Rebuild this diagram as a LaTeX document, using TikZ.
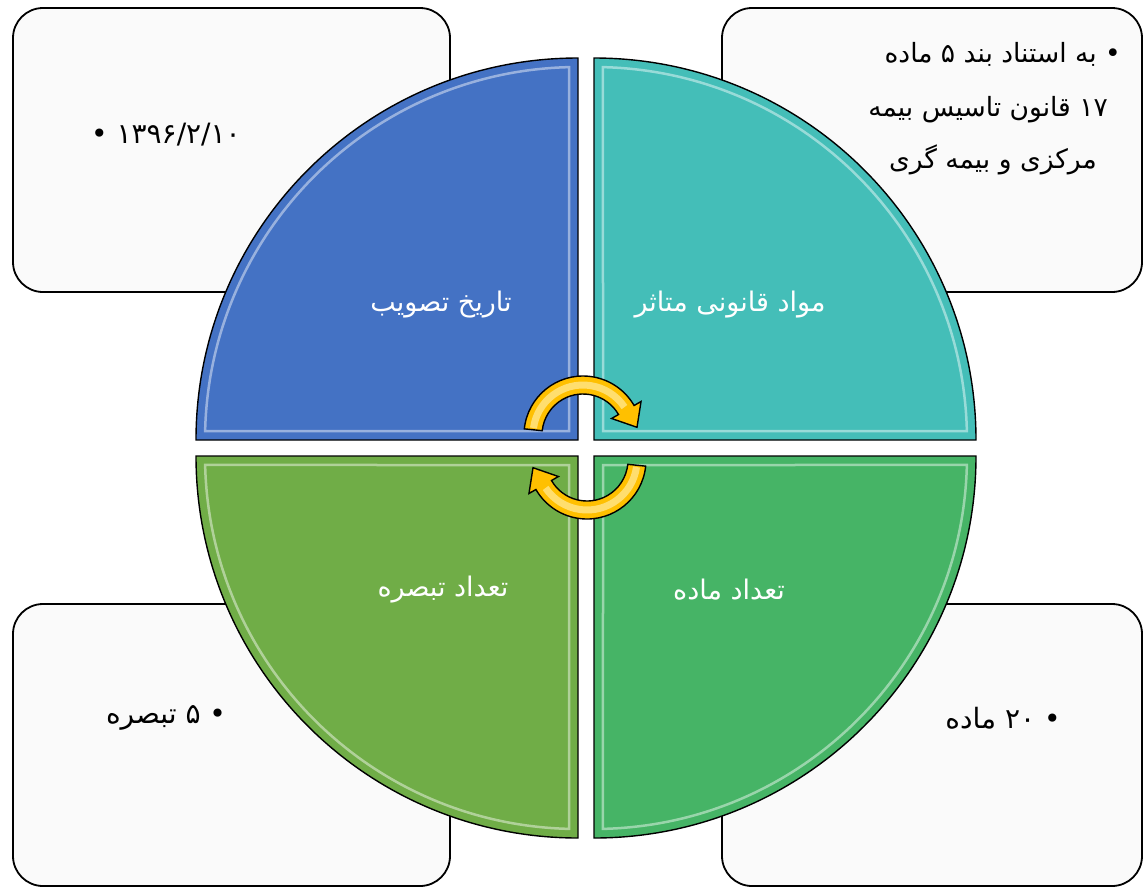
\documentclass[tikz,border=0pt]{standalone}
\usepackage{fontspec}
\newfontfamily\arabicfont[Script=Arabic]{DejaVu Sans}
\TeXXeTstate=1
\definecolor{qblue}{RGB}{68,114,196}
\definecolor{qteal}{RGB}{68,190,184}
\definecolor{qgreenR}{RGB}{70,180,102}
\definecolor{qgreenL}{RGB}{112,173,71}
\definecolor{boxfill}{RGB}{250,250,250}
\definecolor{arrowfill}{RGB}{255,192,0}
\definecolor{arrowlight}{RGB}{255,228,130}
\tikzset{
  infobox/.style={draw=black, line width=1.8pt, fill=boxfill, rounded corners=30pt},
  quad/.style={draw=black, line width=1.4pt},
  bevel/.style={draw=white, line width=2.5pt, opacity=0.45},
  qlabel/.style={font=\arabicfont\fontsize{27}{32}\selectfont, text=white, inner sep=0pt},
  btext/.style={font=\arabicfont\fontsize{28}{33}\selectfont, text=black, inner sep=0pt},
  btextsmall/.style={font=\arabicfont\fontsize{26.5}{31}\selectfont, text=black, inner sep=0pt},
  cyc/.style={draw=black, line width=1.4pt, fill=arrowfill},
  cycshine/.style={draw=arrowlight, line width=7pt, opacity=0.85},
}
\begin{document}
\begin{tikzpicture}[x=1pt, y=-1pt]
\useasboundingbox (0,0) rectangle (1143,887);
% info boxes (behind)
\draw[infobox] (13,8) rectangle (450,292);
\draw[infobox] (722,8) rectangle (1142,292);
\draw[infobox] (13,604) rectangle (450,886);
\draw[infobox] (722,604) rectangle (1142,886);
% quadrants
\begin{scope}[shift={(578,440)}]
  \draw[quad, fill=qblue] (0,0) -- (180:382) arc (180:270:382) -- cycle;
  \draw[bevel] (-9,-9) -- (181.38:373) arc (181.38:268.62:373) -- cycle;
\end{scope}
\begin{scope}[shift={(594,440)}]
  \draw[quad, fill=qteal] (0,0) -- (270:382) arc (270:360:382) -- cycle;
  \draw[bevel] (9,-9) -- (271.38:373) arc (271.38:358.62:373) -- cycle;
\end{scope}
\begin{scope}[shift={(594,456)}]
  \draw[quad, fill=qgreenR] (0,0) -- (0:382) arc (0:90:382) -- cycle;
  \draw[bevel] (9,9) -- (1.38:373) arc (1.38:88.62:373) -- cycle;
\end{scope}
\begin{scope}[shift={(578,456)}]
  \draw[quad, fill=qgreenL] (0,0) -- (90:382) arc (90:180:382) -- cycle;
  \draw[bevel] (-9,9) -- (91.38:373) arc (91.38:178.62:373) -- cycle;
\end{scope}
% quadrant labels
\node[qlabel] (lblDate) at (441,305) {\beginR تاریخ تصویب\endR};
\node[qlabel] (lblLaw) at (730,305) {\beginR مواد قانونی متاثر\endR};
\node[qlabel] (lblNotes) at (443,590) {\beginR تعداد تبصره\endR};
\node[qlabel] (lblArt) at (729,590) {\beginR تعداد ماده\endR};
% box texts
\node[btext] (tDate) at (166,135) {• ۱۳۹۶/۲/۱۰};
\node[btextsmall, anchor=base east] (tLaw1) at (1121,62) {\beginR • به استناد بند ۵ ماده\endR};
\node[btextsmall, anchor=base east] (tLaw2) at (1108,116) {\beginR ۱۷ قانون تاسیس بیمه\endR};
\node[btextsmall, anchor=base east] (tLaw3) at (1097,168) {\beginR مرکزی و بیمه گری\endR};
\node[btext] (tNotes) at (166,718) {\beginR • ۵ تبصره\endR};
\node[btext] (tArt) at (1003,718) {\beginR • ۲۰ ماده\endR};
% circular arrows
\begin{scope}[shift={(583,435)}]
  \draw[cyc] (186:59) arc (186:330:59) -- (330:67) -- (54,-7.7) -- (330:33) -- (330:41) arc (330:186:41) -- cycle;
  \draw[cycshine] (188:50) arc (188:326:50);
\end{scope}
\begin{scope}[shift={(587,460)}]
  \draw[cyc] (6:59) arc (6:150:59) -- (150:67) -- (-54,7.7) -- (150:33) -- (150:41) arc (150:6:41) -- cycle;
  \draw[cycshine] (8:50) arc (8:146:50);
\end{scope}
\end{tikzpicture}
\end{document}
